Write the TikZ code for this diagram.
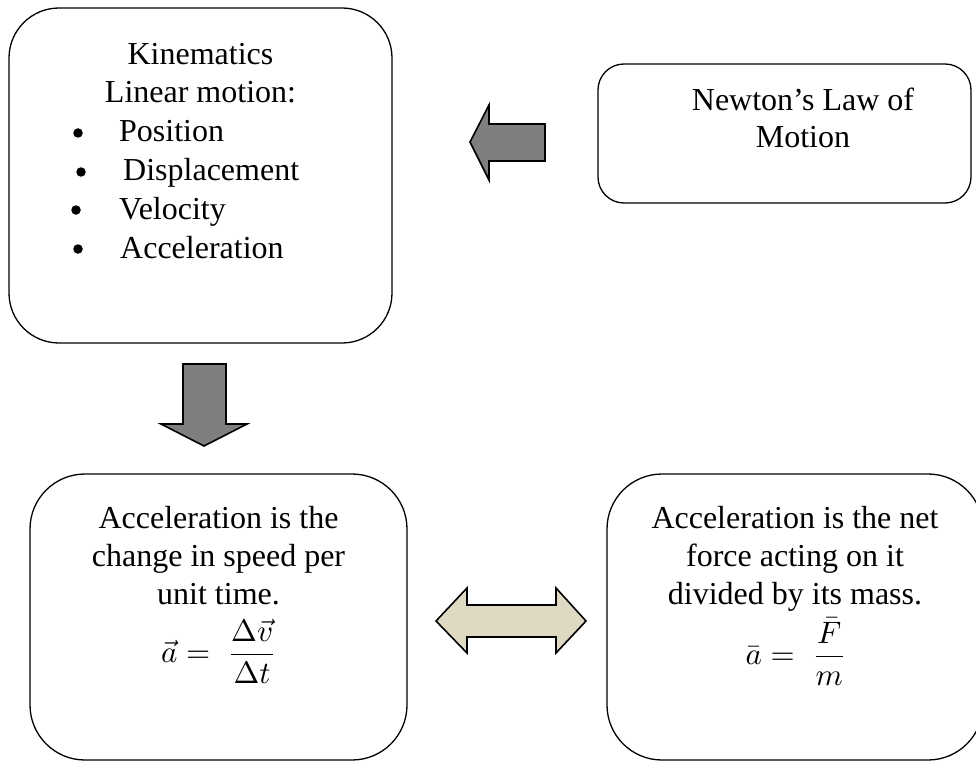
\documentclass[tikz,border=0pt]{standalone}
\usepackage{amsmath}
\usepackage{fontspec}
\setmainfont{Liberation Serif}
\tikzset{
  box/.style={draw, line width=1.3pt},
  blockarrow/.style={draw, line width=1.6pt, line join=miter},
  txt/.style={anchor=base, inner sep=0pt, font=\fontsize{32}{38}\selectfont},
  bul/.style={circle, fill, inner sep=0pt, minimum size=9.5pt},
  item/.style={anchor=base west, inner sep=0pt, font=\fontsize{32}{38}\selectfont}
}
\newcommand{\bigmath}[1]{\scalebox{3.1}{\fontsize{10}{12}\selectfont$#1$}}
\definecolor{arrowgray}{HTML}{7F7F7F}
\definecolor{arrowtan}{HTML}{DDD9C3}
\begin{document}
\begin{tikzpicture}[x=1pt,y=-1pt]
\useasboundingbox (0,0) rectangle (976,762);

% boxes
\draw[box, rounded corners=50pt] (9,8) rectangle (392,343);
\draw[box, rounded corners=26pt] (598,64) rectangle (971,203);
\draw[box, rounded corners=55pt] (30,474) rectangle (407,760);
\draw[box, rounded corners=55pt] (607,474) rectangle (983,760);

% kinematics
\node[txt] (kin) at (200.5,65) {Kinematics};
\node[txt] (lin) at (200.5,103) {Linear motion:};
\node[bul] (b1) at (78,133) {};
\node[item] (pos) at (119,142) {Position};
\node[bul] (b2) at (81,172) {};
\node[item] (dis) at (123,181) {Displacement};
\node[bul] (b3) at (76,210) {};
\node[item] (vel) at (119,219) {Velocity};
\node[bul] (b4) at (78,249) {};
\node[item] (acc) at (120,258) {Acceleration};

% newton
\node[txt] (nl1) at (803,111) {Newton’s Law of};
\node[txt] (nl2) at (803,148) {Motion};

% bottom left
\node[txt] (al1) at (218.5,528) {Acceleration is the};
\node[txt] (al2) at (218.5,566) {change in speed per};
\node[txt] (al3) at (218.5,604) {unit time.};
\node[txt] (aeq) at (219,662) {\bigmath{\vec{a} =\; \dfrac{\Delta\vec{v}}{\Delta t}}};

% bottom right
\node[txt] (ar1) at (795,528) {Acceleration is the net};
\node[txt] (ar2) at (795,566) {force acting on it};
\node[txt] (ar3) at (795,604) {divided by its mass.};
\node[txt] (req) at (796,664) {\bigmath{\bar{a} =\; \dfrac{\bar{F}}{m}}};

% block arrows
\draw[blockarrow, fill=arrowgray] (470,142) -- (489,105) -- (489,124) -- (545,124)
  -- (545,161) -- (489,161) -- (489,180) -- cycle;
\draw[blockarrow, fill=arrowgray] (183,364) -- (226,364) -- (226,424) -- (247,424)
  -- (204,446) -- (161,424) -- (183,424) -- cycle;
\draw[blockarrow, fill=arrowtan] (436,621) -- (467,588) -- (467,605) -- (556,605)
  -- (556,588) -- (586,621) -- (556,653) -- (556,637) -- (467,637) -- (467,653) -- cycle;

\end{tikzpicture}
\end{document}
